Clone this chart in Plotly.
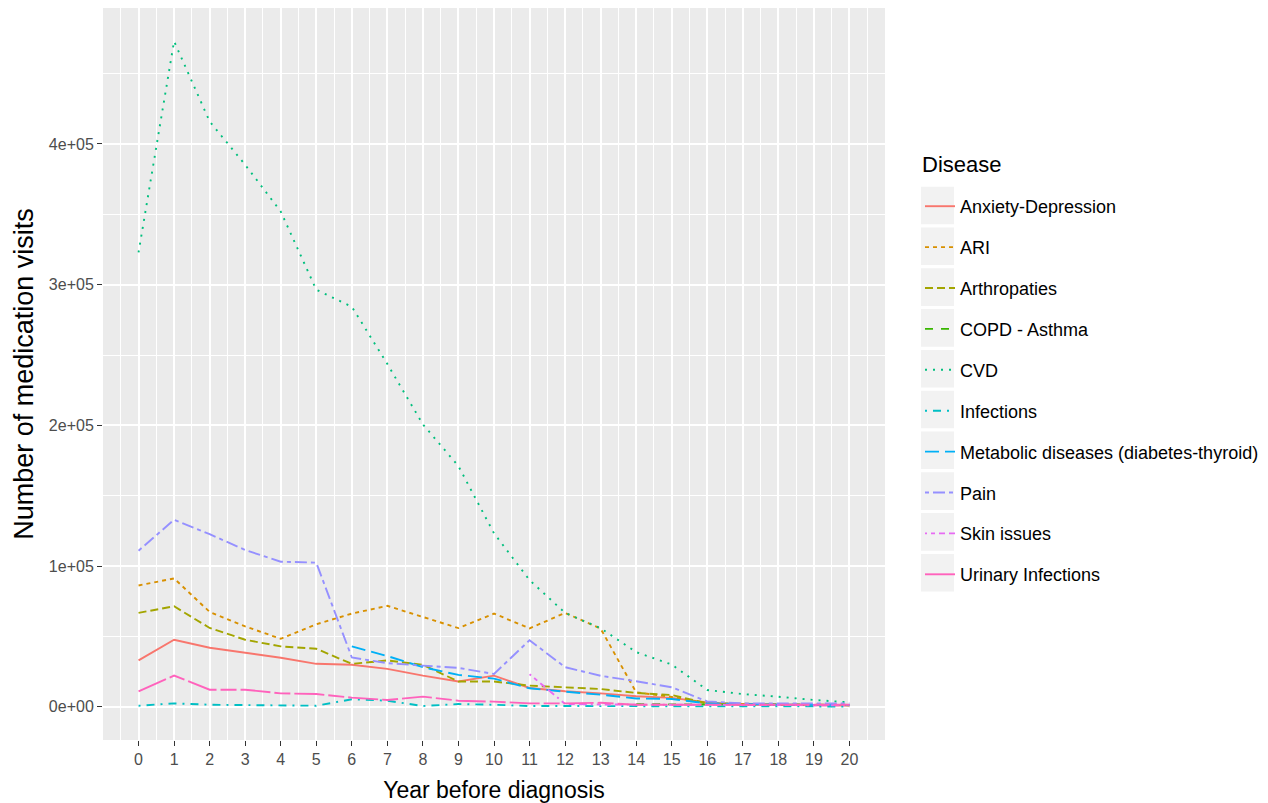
import plotly.graph_objects as go

years = list(range(21))

diseases = ["Anxiety-Depression", "ARI", "Arthropaties", "COPD - Asthma", "CVD",
            "Infections", "Metabolic diseases (diabetes-thyroid)", "Pain",
            "Skin issues", "Urinary Infections"]

anxiety = [32900, 47600, 41900, 38300, 34800, 30500, 29800, 26900, 22100, 17900,
           22100, 13300, 11000, 9500, 7500, 6300, 3100, 1500, 1200, 1000, 900]
ari = [86200, 91200, 67400, 57100, 48300, 58600, 66200, 71700, 63800, 55900,
       66200, 55700, 66700, 55500, 10200, 7000, 2400, 1800, 1500, 1300, 1200]
arthro = [66700, 71400, 56000, 47600, 42900, 41200, 30500, 32900, 29800, 17900,
          17900, 15000, 13800, 12600, 9800, 8300, 2400, 2000, 1700, 1500, 1300]
copd_years = [14, 15, 16, 17, 18, 19, 20]
copd = [1800, 1600, 1500, 1400, 1300, 1200, 1100]
cvd = [322900, 473000, 416000, 385200, 352000, 296400, 284300, 243600, 200700, 171000,
       123300, 90000, 66700, 55800, 38800, 30000, 11900, 9000, 7100, 4800, 3100]
infections = [700, 2400, 1400, 1000, 900, 700, 5300, 4300, 500, 1900,
              1400, 500, 500, 700, 400, 300, 200, 200, 200, 200, 200]
metab_years = list(range(6, 21))
metab = [42900, 36000, 28100, 22600, 20000, 13100, 10700, 8600, 5900, 5500,
         2400, 1800, 1500, 1300, 1200]
pain = [110900, 132900, 122600, 111400, 103100, 102400, 35000, 31000, 29200, 27600,
        23300, 47300, 28100, 22000, 18100, 13800, 3800, 2400, 2400, 2400, 2400]
skin_years = list(range(11, 21))
skin = [23100, 2000, 1600, 1500, 1400, 1300, 1200, 1100, 1000, 1000]
urinary = [10900, 22100, 12100, 12100, 9500, 9000, 6500, 4800, 7200, 4300,
           3600, 2400, 2400, 2800, 1400, 1400, 1400, 1400, 1400, 1400, 1400]

y_tickvals = [0, 100000, 200000, 300000, 400000]
y_ticktext = ["0e+00", "1e+05", "2e+05", "3e+05", "4e+05"]

series = [
    (diseases[0], years, anxiety, "#F8766D", "solid"),
    (diseases[1], years, ari, "#D89000", "4px,4px"),
    (diseases[2], years, arthro, "#A3A500", "8px,4px"),
    (diseases[3], copd_years, copd, "#39B600", "8px,8px"),
    (diseases[4], years, cvd, "#00BF7D", "2px,6px"),
    (diseases[5], years, infections, "#00BFC4", "2px,6px,8px,6px"),
    (diseases[6], metab_years, metab, "#00B0F6", "14px,6px"),
    (diseases[7], years, pain, "#9590FF", "4px,4px,12px,4px"),
    (diseases[8], skin_years, skin, "#E76BF3", "2px,4px,4px,4px,6px,4px,8px,4px"),
    (diseases[9], years, urinary, "#FF62BC", "30px,4px,16px,4px"),
]

# page geometry (browser body has an 8px margin)
W, H = 1260, 795
L, T, PW, PH = 95, 0, 782, 732
OFF = 8


def px2paper_x(px):
    return (px - OFF - L) / PW


def px2paper_y(py):
    return 1 - (py - OFF - T) / PH


fig = go.Figure()
for name, xs, ys, color, dash in series:
    fig.add_trace(go.Scatter(
        x=xs, y=ys, mode="lines", name=name, legendgroup=name,
        line=dict(color=color, width=1.9, dash=dash),
    ))

# grey legend key backgrounds (ggplot style)
shapes = []
for i in range(len(series)):
    cy = 205.5 + 40.8 * i
    shapes.append(dict(
        type="rect", xref="paper", yref="paper", layer="below",
        x0=px2paper_x(921), x1=px2paper_x(954),
        y0=px2paper_y(cy + 18.8), y1=px2paper_y(cy - 18.8),
        fillcolor="#F2F2F2", line=dict(width=0),
    ))

fig.update_layout(
    width=W, height=H,
    margin=dict(l=L, r=W - L - PW, t=T, b=H - T - PH),
    paper_bgcolor="white",
    plot_bgcolor="#EBEBEB",
    font=dict(family="Liberation Sans, Arial, sans-serif", color="#000000"),
    showlegend=True,
    shapes=shapes,
    annotations=[dict(
        text="Disease", xref="paper", yref="paper",
        x=px2paper_x(920), y=px2paper_y(165), xanchor="left", yanchor="middle",
        showarrow=False, font=dict(size=22, color="#000"),
    )],
    legend=dict(
        x=px2paper_x(920), xanchor="left", y=px2paper_y(188), yanchor="top",
        font=dict(size=18, color="#000"),
        tracegroupgap=14.5,
        bgcolor="rgba(0,0,0,0)",
        itemwidth=30,
    ),
)

fig.update_xaxes(
    range=[-1, 21], tickmode="array", tickvals=years, ticktext=[str(v) for v in years],
    showgrid=True, gridcolor="white", gridwidth=1.6,
    minor=dict(dtick=0.5, tick0=0, showgrid=True, gridcolor="white", gridwidth=0.8),
    zeroline=False, showline=False,
    ticks="outside", ticklen=5, tickwidth=1.2, tickcolor="#333333",
    tickfont=dict(size=16, color="#4D4D4D"),
    title=dict(text="Year before diagnosis", font=dict(size=23, color="#000"), standoff=14),
)
fig.update_yaxes(
    range=[-23650, 496650], tickmode="array", tickvals=y_tickvals, ticktext=y_ticktext,
    showgrid=True, gridcolor="white", gridwidth=1.6,
    minor=dict(dtick=50000, tick0=0, showgrid=True, gridcolor="white", gridwidth=0.8),
    zeroline=False, showline=False,
    ticks="outside", ticklen=5, tickwidth=1.2, tickcolor="#333333",
    tickfont=dict(size=16, color="#4D4D4D"),
    title=dict(text="Number of medication visits", font=dict(size=27, color="#000"), standoff=7),
)

fig.write_html("out.html")
